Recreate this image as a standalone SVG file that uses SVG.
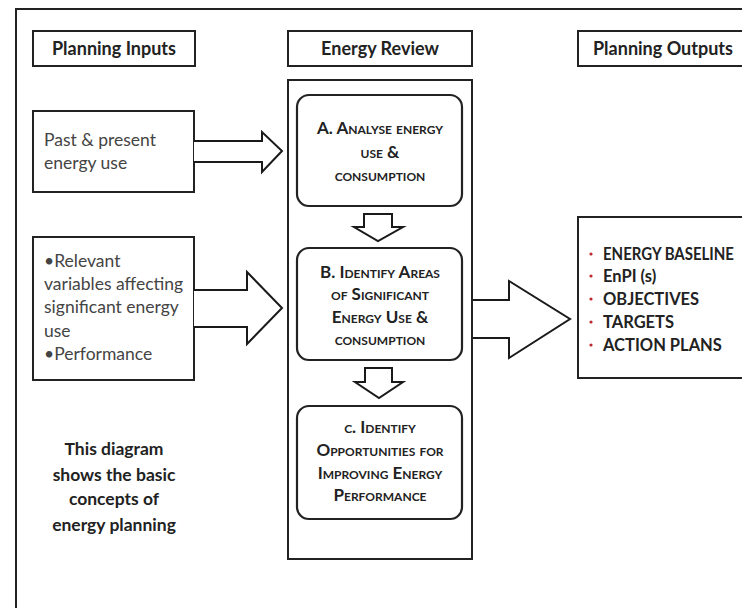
<svg xmlns="http://www.w3.org/2000/svg" width="742" height="608" viewBox="0 0 742 608">
<style>
.box{fill:#fff;stroke:#222;stroke-width:2}
.rbox{fill:#fff;stroke:#222;stroke-width:2.2}
.arr{fill:#fff;stroke:#1a1a1a;stroke-width:2;stroke-linejoin:miter}
.hd{font-family:Lato,"Open Sans","Liberation Sans",sans-serif;font-weight:bold;font-size:18px;fill:#222}
.in{font-family:Lato,"Open Sans","Liberation Sans",sans-serif;font-size:17.5px;fill:#444}
.sc{font-family:Lato,"Open Sans","Liberation Sans",sans-serif;font-weight:bold;font-size:17px;fill:#222;font-variant:small-caps;text-anchor:middle}
.out{font-family:Lato,"Open Sans","Liberation Sans",sans-serif;font-weight:bold;font-size:16.5px;fill:#222}
.bul{fill:#c0282f}
.note{font-family:Lato,"Open Sans","Liberation Sans",sans-serif;font-weight:bold;font-size:17.5px;fill:#222;text-anchor:middle}
</style>
<rect width="742" height="608" fill="#fff"/>
<path d="M16,620 V9 H750" fill="none" stroke="#222" stroke-width="2"/>

<g id="planning-inputs">
<rect class="box" x="33" y="31" width="162" height="35"/>
<text class="hd" x="52" y="55">Planning Inputs</text>
</g>
<g id="energy-review">
<rect class="box" x="288" y="31" width="184" height="35"/>
<text class="hd" x="380" y="55" text-anchor="middle">Energy Review</text>
</g>
<g id="planning-outputs">
<rect class="box" x="578" y="31" width="180" height="35"/>
<text class="hd" x="593" y="55">Planning Outputs</text>
</g>

<g id="past-present">
<rect class="box" x="33" y="111" width="161" height="81"/>
<text class="in" x="44" y="146">Past &amp; present</text>
<text class="in" x="44" y="169">energy use</text>
</g>

<g id="relevant-variables">
<rect class="box" x="33" y="237" width="161" height="143"/>
<text class="in" x="44" y="267">•Relevant</text>
<text class="in" x="44" y="290">variables affecting</text>
<text class="in" x="44" y="313">significant energy</text>
<text class="in" x="44" y="337">use</text>
<text class="in" x="44" y="360">•Performance</text>
</g>

<g id="review-column">
<rect class="box" x="288" y="80" width="184" height="479"/>
</g>

<g id="connectors">
<path class="arr" d="M194,141 H262 V132 L282,151 L262,172 V162 H194"/>
<path class="arr" d="M194,290 H247 V272 L282,308 L247,344 V327 H194"/>
<path class="arr" d="M473,300 H509 V281 L570,319 L509,358 V338 H473"/>
<path class="arr" d="M364,214 H392 V227 H403 L378,241 L354,227 H364 Z"/>
<path class="arr" d="M365,368 H392 V382 H403 L379,398 L355,382 H365 Z"/>
</g>

<g id="box-a">
<rect class="rbox" x="297" y="95" width="165" height="111" rx="12"/>
<text class="sc" x="380" y="134">A. Analyse energy</text>
<text class="sc" x="380" y="158">use &amp;</text>
<text class="sc" x="380" y="181">consumption</text>
</g>

<g id="box-b">
<rect class="rbox" x="297" y="248" width="165" height="112" rx="12"/>
<text class="sc" x="380" y="278">B. Identify Areas</text>
<text class="sc" x="380" y="300">of Significant</text>
<text class="sc" x="380" y="323">Energy Use &amp;</text>
<text class="sc" x="380" y="345">consumption</text>
</g>

<g id="box-c">
<rect class="rbox" x="297" y="406" width="165" height="113" rx="12"/>
<text class="sc" x="380" y="433">c. Identify</text>
<text class="sc" x="380" y="456">Opportunities for</text>
<text class="sc" x="380" y="479">Improving Energy</text>
<text class="sc" x="380" y="501">Performance</text>
</g>

<g id="outputs">
<rect class="box" x="578" y="217" width="180" height="161"/>
<circle class="bul" cx="591" cy="254" r="1.6"/>
<circle class="bul" cx="591" cy="276" r="1.6"/>
<circle class="bul" cx="591" cy="299" r="1.6"/>
<circle class="bul" cx="591" cy="322" r="1.6"/>
<circle class="bul" cx="591" cy="345" r="1.6"/>
<text class="out" x="603" y="260" textLength="131" lengthAdjust="spacingAndGlyphs">ENERGY BASELINE</text>
<text class="out" x="603" y="282">EnPI (s)</text>
<text class="out" x="603" y="305">OBJECTIVES</text>
<text class="out" x="603" y="328">TARGETS</text>
<text class="out" x="603" y="351">ACTION PLANS</text>
</g>

<g id="note">
<text class="note" x="114" y="455">This diagram</text>
<text class="note" x="114" y="481">shows the basic</text>
<text class="note" x="114" y="505">concepts of</text>
<text class="note" x="114" y="531">energy planning</text>
</g>
</svg>
